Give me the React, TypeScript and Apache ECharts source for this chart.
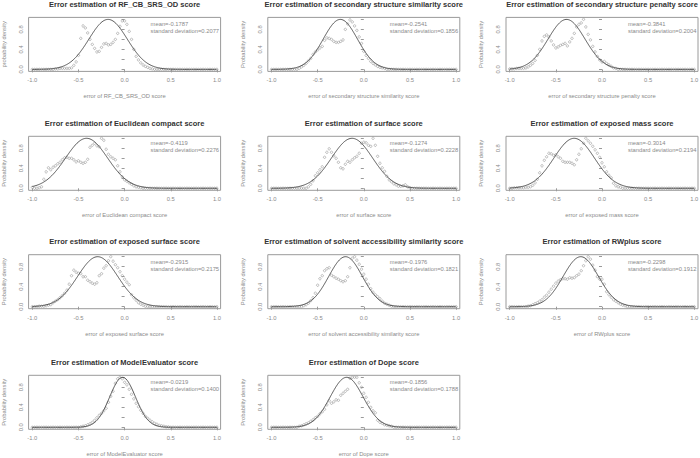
import React, { useEffect, useRef } from "react";
import * as echarts from "echarts";

// ---------- data ----------
const titles = [
  "Error estimation of RF_CB_SRS_OD score",
  "Error estimation of secondary structure similarity score",
  "Error estimation of secondary structure penalty score",
  "Error estimation of Euclidean compact score",
  "Error estimation of surface score",
  "Error estimation of exposed mass score",
  "Error estimation of exposed surface score",
  "Error estimation of solvent accessibility similarity score",
  "Error estimation of RWplus score",
  "Error estimation of ModelEvaluator score",
  "Error estimation of Dope score",
];
const xAxisNames = [
  "error of RF_CB_SRS_OD score",
  "error of secondary structure similarity score",
  "error of secondary structure penalty score",
  "error of Euclidean compact score",
  "error of surface score",
  "error of exposed mass score",
  "error of exposed surface score",
  "error of solvent accessibility similarity score",
  "error of RWplus score",
  "error of ModelEvaluator score",
  "error of Dope score",
];
const yAxisNames = [
  "probability density",
  "Probability density",
  "Probability density",
  "Probability density",
  "Probability density",
  "Probability density",
  "Probability density",
  "Probability density",
  "Probability density",
  "Probability density",
  "Probability density",
];
const means = [-0.1787, -0.2541, -0.3841, -0.4119, -0.1274, -0.3014, -0.2915, -0.1976, -0.2298, -0.0219, -0.1856];
const sds = [0.2077, 0.1856, 0.2004, 0.2276, 0.2228, 0.2194, 0.2175, 0.1821, 0.1912, 0.14, 0.1788];
const meanLabels = ["-0.1787", "-0.2541", "-0.3841", "-0.4119", "-0.1274", "-0.3014", "-0.2915", "-0.1976", "-0.2298", "-0.0219", "-0.1856"];
const sdLabels = ["0.2077", "0.1856", "0.2004", "0.2276", "0.2228", "0.2194", "0.2175", "0.1821", "0.1912", "0.1400", "0.1788"];

const xTicks = [-1, -0.5, 0, 0.5, 1];
const yTicks = [0, 0.2, 0.4, 0.6, 0.8, 1.0];
const yTickLabels = [0, 0.4, 0.8];

// observed error densities, bins from -1.0 to 1.0 in steps of 0.025
const BIN_START = -1;
const BIN_STEP = 0.025;
const p1 = [
  0, 0, 0, 0, 0, 0, 0, 0, 0, 0,
  0.01, 0.01, 0.02, 0.02, 0.02, 0.02, 0.02, 0.03, 0.08, 0.15,
  0.28, 0.62, 0.87, 0.83, 0.73, 0.6, 0.5, 0.42, 0.35, 0.36,
  0.44, 0.51, 0.52, 0.49, 0.5, 0.54, 0.6, 0.72, 0.86, 0.97,
  0.97, 0.9, 0.76, 0.6, 0.4, 0.26, 0.19, 0.13, 0.09, 0.06,
  0.04, 0.02, 0.01, 0, 0, 0, 0, 0, 0, 0,
  0, 0, 0, 0, 0, 0, 0, 0, 0, 0,
  0, 0, 0, 0, 0, 0, 0, 0, 0, 0,
  0,
];
const p2 = [
  0, 0, 0, 0, 0, 0, 0, 0, 0, 0,
  0, 0, 0.02, 0.05, 0.08, 0.12, 0.17, 0.22, 0.3, 0.35,
  0.39, 0.43, 0.46, 0.58, 0.63, 0.62, 0.6, 0.56, 0.54, 0.54,
  0.56, 0.59, 0.8, 0.91, 0.99, 0.95, 0.87, 0.78, 0.65, 0.52,
  0.36, 0.28, 0.22, 0.16, 0.12, 0.09, 0.06, 0.04, 0.03, 0.02,
  0, 0, 0, 0, 0, 0, 0, 0, 0, 0,
  0, 0, 0, 0, 0, 0, 0, 0, 0, 0,
  0, 0, 0, 0, 0, 0, 0, 0, 0, 0,
  0,
];
const p3 = [
  0.01, 0.01, 0.01, 0.02, 0.02, 0.02, 0.02, 0.03, 0.05, 0.08,
  0.12, 0.18, 0.28, 0.4, 0.57, 0.66, 0.69, 0.65, 0.57, 0.49,
  0.43, 0.45, 0.48, 0.5, 0.52, 0.47, 0.55, 0.62, 0.72, 0.85,
  0.9, 0.93, 1.0, 0.85, 0.7, 0.59, 0.46, 0.35, 0.26, 0.19,
  0.15, 0.16, 0.12, 0.09, 0.06, 0.03, 0.02, 0, 0, 0,
  0, 0, 0, 0, 0, 0, 0, 0, 0, 0,
  0, 0, 0, 0, 0, 0, 0, 0, 0, 0,
  0, 0, 0, 0, 0, 0, 0, 0, 0, 0,
  0,
];
const p4 = [
  0.02, 0, 0, 0.01, 0.03, 0.18, 0.33, 0.41, 0.37, 0.42,
  0.45, 0.49, 0.52, 0.57, 0.61, 0.62, 0.6, 0.6, 0.57, 0.53,
  0.55, 0.52, 0.5, 0.52, 0.58, 0.82, 0.86, 0.9, 0.85, 0.83,
  1.0, 0.96, 0.78, 0.68, 0.63, 0.6, 0.57, 0.45, 0.33, 0.23,
  0.17, 0.14, 0.11, 0.08, 0.05, 0.03, 0.02, 0.01, 0, 0,
  0, 0, 0, 0, 0, 0, 0, 0, 0, 0,
  0, 0, 0, 0, 0, 0, 0, 0, 0, 0,
  0, 0, 0, 0, 0, 0, 0, 0, 0, 0,
  0,
];
const p5 = [
  0, 0, 0, 0, 0, 0, 0, 0, 0, 0,
  0, 0, 0, 0, 0, 0, 0.03, 0.08, 0.15, 0.25,
  0.31, 0.37, 0.43, 0.62, 0.72, 0.79, 0.72, 0.65, 0.6, 0.52,
  0.41, 0.39, 0.48, 0.54, 0.52, 0.57, 0.61, 0.64, 0.7, 0.9,
  0.92, 0.91, 0.86, 0.84, 1.0, 0.86, 0.64, 0.5, 0.41, 0.34,
  0.24, 0.17, 0.13, 0.09, 0.07, 0.04, 0.04, 0.05, 0.07, 0.03,
  0.01, 0, 0, 0, 0, 0, 0, 0, 0, 0,
  0, 0, 0, 0, 0, 0, 0, 0, 0, 0,
  0,
];
const p6 = [
  0, 0, 0.01, 0.01, 0.01, 0.01, 0.01, 0.02, 0.02, 0.03,
  0.06, 0.11, 0.18, 0.31, 0.45, 0.56, 0.63, 0.7, 0.69, 0.66,
  0.67, 0.63, 0.6, 0.54, 0.52, 0.52, 0.52, 0.5, 0.47, 0.57,
  0.68, 0.79, 0.9, 1.0, 0.95, 0.9, 0.84, 0.77, 0.7, 0.62,
  0.51, 0.43, 0.33, 0.26, 0.21, 0.1, 0.05, 0.03, 0.02, 0,
  0, 0, 0, 0, 0, 0, 0, 0, 0, 0,
  0, 0, 0, 0, 0, 0, 0, 0, 0, 0,
  0, 0, 0, 0, 0, 0, 0, 0, 0, 0,
  0,
];
const p7 = [
  0, 0, 0, 0.01, 0.01, 0.01, 0.02, 0.03, 0.04, 0.08,
  0.11, 0.14, 0.18, 0.22, 0.27, 0.33, 0.45, 0.62, 0.73, 0.69,
  0.67, 0.66, 0.6, 0.6, 0.53, 0.5, 0.47, 0.45, 0.48, 0.62,
  0.66, 0.77, 0.82, 0.92, 1.0, 0.91, 0.84, 0.78, 0.7, 0.62,
  0.55, 0.49, 0.44, 0.24, 0.18, 0.13, 0.08, 0.05, 0.03, 0.01,
  0, 0, 0, 0, 0, 0, 0, 0, 0, 0,
  0, 0, 0, 0, 0, 0, 0, 0, 0, 0,
  0, 0, 0, 0, 0, 0, 0, 0, 0, 0,
  0,
];
const p8 = [
  0, 0, 0, 0, 0, 0, 0, 0, 0, 0,
  0, 0, 0, 0, 0.02, 0.04, 0.07, 0.12, 0.18, 0.27,
  0.43, 0.56, 0.62, 0.72, 0.76, 0.78, 0.63, 0.6, 0.57, 0.55,
  0.52, 0.5, 0.52, 0.6, 0.78, 0.97, 1.0, 0.93, 0.85, 0.75,
  0.65, 0.55, 0.45, 0.36, 0.29, 0.24, 0.2, 0.16, 0.11, 0.07,
  0.05, 0.03, 0.01, 0, 0, 0, 0, 0, 0, 0,
  0, 0, 0, 0, 0, 0, 0, 0, 0, 0,
  0, 0, 0, 0, 0, 0, 0, 0, 0, 0,
  0,
];
const p9 = [
  0, 0, 0, 0, 0, 0, 0, 0, 0.01, 0.02,
  0.04, 0.06, 0.08, 0.11, 0.14, 0.19, 0.23, 0.29, 0.35, 0.41,
  0.47, 0.51, 0.54, 0.56, 0.56, 0.55, 0.58, 0.57, 0.58, 0.62,
  0.65, 0.72, 0.82, 0.92, 1.0, 0.95, 0.83, 0.73, 0.6, 0.55,
  0.55, 0.45, 0.3, 0.24, 0.19, 0.14, 0.11, 0.08, 0.05, 0.03,
  0.02, 0, 0, 0, 0, 0, 0, 0, 0, 0,
  0, 0, 0, 0, 0, 0, 0, 0, 0, 0,
  0, 0, 0, 0, 0, 0, 0, 0, 0, 0,
  0,
];
const p10 = [
  0, 0, 0, 0, 0, 0, 0, 0, 0, 0,
  0, 0, 0, 0, 0, 0, 0, 0, 0, 0,
  0, 0.01, 0.02, 0.03, 0.05, 0.07, 0.1, 0.14, 0.19, 0.24,
  0.28, 0.33, 0.38, 0.5, 0.62, 0.72, 0.88, 0.97, 1.0, 0.97,
  0.9, 0.85, 0.76, 0.66, 0.57, 0.48, 0.41, 0.34, 0.28, 0.22,
  0.18, 0.14, 0.11, 0.08, 0.06, 0.04, 0.03, 0.02, 0.01, 0.01,
  0, 0, 0, 0, 0, 0, 0, 0, 0, 0,
  0, 0, 0, 0, 0, 0, 0, 0, 0, 0,
  0,
];
const p11 = [
  0, 0, 0, 0, 0, 0, 0, 0, 0, 0,
  0, 0, 0.02, 0.03, 0.05, 0.07, 0.09, 0.12, 0.15, 0.19,
  0.22, 0.27, 0.31, 0.36, 0.45, 0.53, 0.48, 0.51, 0.55, 0.54,
  0.64, 0.68, 0.72, 0.76, 0.98, 1.0, 1.0, 1.0, 0.89, 0.8,
  0.68, 0.6, 0.5, 0.4, 0.33, 0.29, 0.14, 0.1, 0.08, 0.05,
  0.04, 0.03, 0.02, 0, 0, 0, 0, 0, 0, 0,
  0, 0, 0, 0, 0, 0, 0, 0, 0, 0,
  0, 0, 0, 0, 0, 0, 0, 0, 0, 0,
  0,
];
const observed = [p1, p2, p3, p4, p5, p6, p7, p8, p9, p10, p11];

// ---------- layout ----------
const COL_LEFT = [28.6, 267.8, 506];
const ROW_TOP = [17.4, 136.3, 254.7, 375.3];
const BOX_W = 192;
const BOX_H = 54;
const FONT = '"Liberation Sans", Arial, sans-serif';
const GREY_TEXT = "#8a8a8a";
const GREY_LINE = "#9a9a9a";

// fitted normal density (scaled to peak 1) from the printed mean and sd
function normalCurve(mu: number, sd: number): number[][] {
  const out: number[][] = [];
  for (let i = 0; i <= 400; i++) {
    const x = -1 + i * 0.005;
    out.push([x, Math.exp(-((x - mu) * (x - mu)) / (2 * sd * sd))]);
  }
  return out;
}

export default function App() {
  const ref = useRef<HTMLDivElement>(null);
  useEffect(() => {
    if (!ref.current) return;
    const chart = echarts.init(ref.current, undefined, { renderer: "svg" });
    const n = titles.length;
    const grids: any[] = [];
    const xAxes: any[] = [];
    const yAxes: any[] = [];
    const series: any[] = [];
    const graphics: any[] = [];
    for (let k = 0; k < n; k++) {
      const left = COL_LEFT[k % 3];
      const top = ROW_TOP[Math.floor(k / 3)];
      grids.push({
        left,
        top,
        width: BOX_W,
        height: BOX_H,
        show: true,
        borderColor: GREY_LINE,
        borderWidth: 1,
        backgroundColor: "transparent",
        containLabel: false,
        outerBoundsMode: "none",
      });
      xAxes.push({
        gridIndex: k,
        type: "value",
        min: -1.04,
        max: 1.04,
        axisLine: { show: false },
        splitLine: { show: false },
        axisTick: { show: true, customValues: xTicks, length: 3, lineStyle: { color: GREY_LINE, width: 1 } },
        axisLabel: {
          customValues: xTicks,
          formatter: (v: number) => v.toFixed(1),
          fontSize: 5.8,
          color: GREY_TEXT,
          margin: 6,
          fontFamily: FONT,
        },
        name: xAxisNames[k],
        nameLocation: "middle",
        nameGap: 22,
        nameTextStyle: { fontSize: 5.8, color: GREY_TEXT, fontFamily: FONT },
      });
      yAxes.push({
        gridIndex: k,
        type: "value",
        min: -0.04,
        max: 1.04,
        axisLine: { show: false },
        splitLine: { show: false },
        axisTick: { show: true, customValues: yTicks, length: 3, lineStyle: { color: GREY_LINE, width: 1 } },
        axisLabel: {
          customValues: yTickLabels,
          formatter: (v: number) => v.toFixed(1),
          rotate: 90,
          fontSize: 5.8,
          color: GREY_TEXT,
          margin: 5,
          fontFamily: FONT,
        },
        name: yAxisNames[k],
        nameLocation: "middle",
        nameGap: 22,
        nameRotate: 90,
        nameTextStyle: { fontSize: 5.8, color: GREY_TEXT, fontFamily: FONT },
      });
      const pts = observed[k].map((y, i) => [BIN_START + i * BIN_STEP, y]);
      series.push({
        type: "scatter",
        xAxisIndex: k,
        yAxisIndex: k,
        data: pts,
        symbol: "circle",
        symbolSize: 2.4,
        itemStyle: { color: "rgba(0,0,0,0)", borderColor: "#909090", borderWidth: 0.7 },
        silent: true,
      });
      series.push({
        type: "line",
        xAxisIndex: k,
        yAxisIndex: k,
        data: normalCurve(means[k], sds[k]),
        showSymbol: false,
        symbol: "none",
        lineStyle: { color: "#444", width: 0.9 },
        silent: true,
      });
      graphics.push({
        type: "text",
        x: left + BOX_W / 2,
        y: top - 13,
        style: {
          text: titles[k],
          align: "center",
          verticalAlign: "middle",
          font: `bold 7.5px ${FONT}`,
          fill: "#333",
        },
      });
      graphics.push({
        type: "text",
        x: left + 122,
        y: top + 7,
        style: {
          text: "mean=" + meanLabels[k],
          align: "left",
          verticalAlign: "middle",
          font: `5.8px ${FONT}`,
          fill: GREY_TEXT,
        },
      });
      graphics.push({
        type: "text",
        x: left + 122,
        y: top + 14,
        style: {
          text: "standard deviation=" + sdLabels[k],
          align: "left",
          verticalAlign: "middle",
          font: `5.8px ${FONT}`,
          fill: GREY_TEXT,
        },
      });
    }
    chart.setOption({
      animation: false,
      backgroundColor: "#fff",
      grid: grids,
      xAxis: xAxes,
      yAxis: yAxes,
      series,
      graphic: graphics,
    });
    return () => chart.dispose();
  }, []);
  return (
    <div
      ref={ref}
      style={{ position: "fixed", left: 0, top: 0, width: 700, height: 458 }}
    />
  );
}
